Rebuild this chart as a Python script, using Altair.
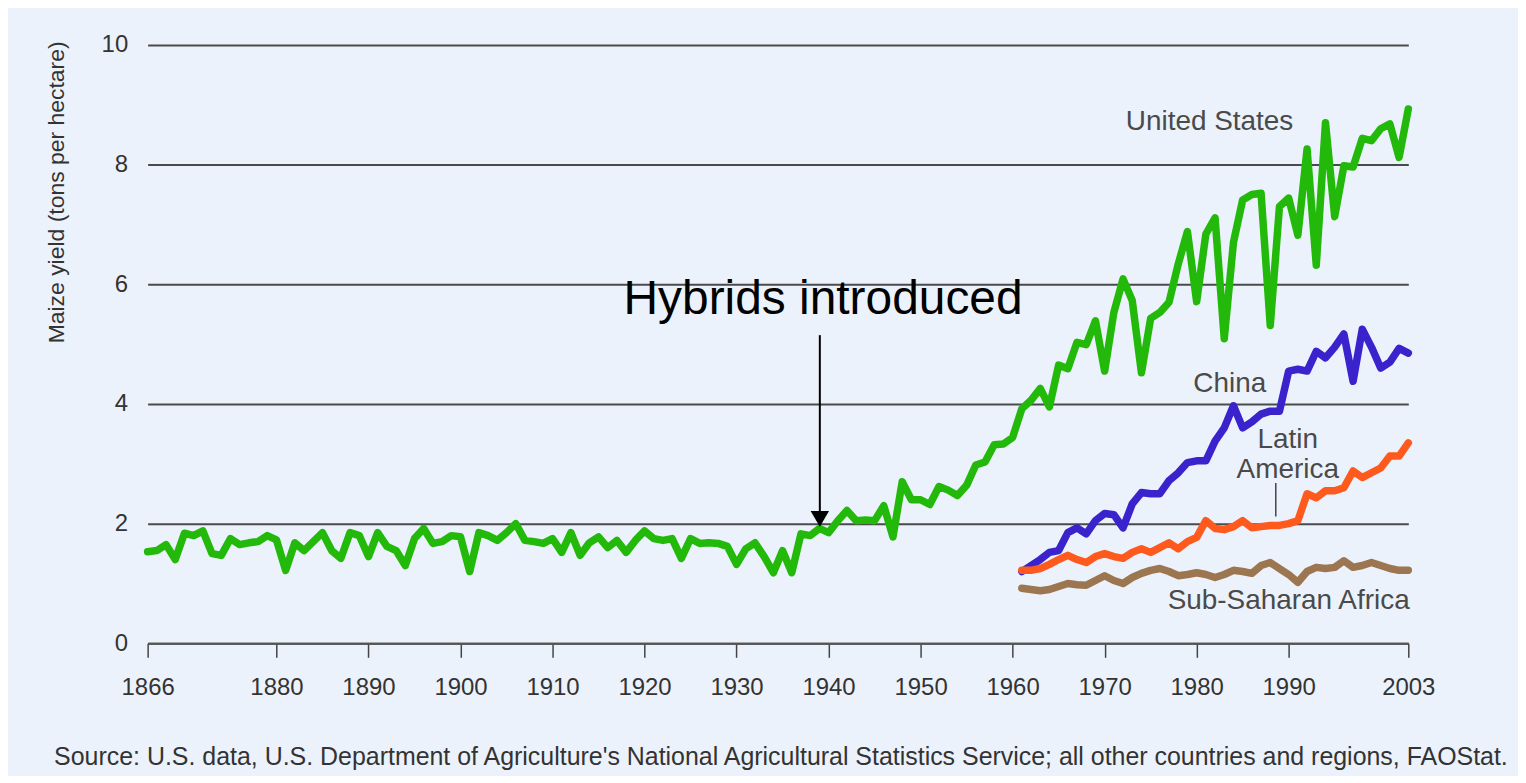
import altair as alt
import pandas as pd

# ---------------- data ----------------
us_years = list(range(1866, 2004))
us_yield = [
    1.53, 1.55, 1.65, 1.40,
    1.84, 1.80, 1.88, 1.50, 1.47, 1.75, 1.65, 1.68, 1.70, 1.80,
    1.73, 1.22, 1.68, 1.55, 1.70, 1.85, 1.55, 1.42, 1.85, 1.80,
    1.45, 1.85, 1.62, 1.55, 1.30, 1.75, 1.92, 1.67, 1.70, 1.80,
    1.78, 1.20, 1.85, 1.80, 1.72, 1.85, 2.00, 1.72, 1.70, 1.67,
    1.75, 1.52, 1.85, 1.47, 1.68, 1.78, 1.60, 1.72, 1.52, 1.72,
    1.88, 1.75, 1.72, 1.75, 1.42, 1.75, 1.67, 1.68, 1.67, 1.62,
    1.32, 1.58, 1.68, 1.45, 1.18, 1.55, 1.18, 1.83, 1.80, 1.92,
    1.85, 2.05, 2.22, 2.05, 2.06, 2.05, 2.30, 1.78, 2.70, 2.40,
    2.40, 2.32, 2.62, 2.56, 2.47, 2.64, 2.98, 3.03, 3.32, 3.33,
    3.44, 3.92, 4.06, 4.26, 3.95, 4.65, 4.59, 5.03, 4.99, 5.39,
    4.55, 5.53, 6.09, 5.73, 4.52, 5.43, 5.53, 5.70, 6.34, 6.88,
    5.71, 6.84, 7.11, 5.09, 6.70, 7.41, 7.50, 7.52, 5.31, 7.30,
    7.44, 6.82, 8.26, 6.32, 8.70, 7.13, 7.98, 7.96, 8.44, 8.40,
    8.60, 8.68, 8.12, 8.93,
]

fao_years = list(range(1961, 2004))
china = [
    1.20, 1.30, 1.40, 1.52, 1.55, 1.85, 1.93, 1.83, 2.05,
    2.17, 2.15, 1.93, 2.33, 2.52, 2.50, 2.50, 2.72, 2.85, 3.02,
    3.05, 3.05, 3.38, 3.60, 3.97, 3.60, 3.70, 3.83, 3.88, 3.88,
    4.55, 4.58, 4.55, 4.88, 4.77, 4.95, 5.17, 4.38, 5.25, 4.95,
    4.60, 4.70, 4.93, 4.85,
]
latin_america = [
    1.22, 1.22, 1.25, 1.32, 1.40, 1.47, 1.40, 1.35, 1.45,
    1.50, 1.45, 1.42, 1.52, 1.58, 1.52, 1.60, 1.68, 1.58, 1.70,
    1.77, 2.05, 1.92, 1.90, 1.95, 2.05, 1.93, 1.95, 1.97, 1.97,
    2.00, 2.05, 2.50, 2.43, 2.55, 2.55, 2.60, 2.88, 2.77, 2.85,
    2.93, 3.13, 3.13, 3.35,
]
sub_saharan = [
    0.92, 0.90, 0.88, 0.90, 0.95, 1.00, 0.98, 0.97, 1.05,
    1.13, 1.05, 1.00, 1.10, 1.17, 1.22, 1.25, 1.20, 1.13, 1.15,
    1.18, 1.15, 1.10, 1.15, 1.22, 1.20, 1.17, 1.30, 1.35, 1.25,
    1.15, 1.02, 1.20, 1.27, 1.25, 1.27, 1.38, 1.27, 1.30, 1.35,
    1.30, 1.25, 1.22, 1.22,
]

series_names = ["United States", "China", "Latin America", "Sub-Saharan Africa"]
series_colors = ["#22B90A", "#3A22CC", "#FF5A1E", "#9C7650"]

x_ticks = [1866, 1880, 1890, 1900, 1910, 1920, 1930, 1940, 1950, 1960, 1970, 1980, 1990, 2003]
y_ticks = [0, 2, 4, 6, 8, 10]

# annotation labels (data coordinates)
label_texts = ["United States", "China", "Latin", "America", "Sub-Saharan Africa"]
label_years = [1981.4, 1983.6, 1989.9, 1989.9, 1990.0]
label_vals = [8.57, 4.20, 3.27, 2.77, 0.57]

hybrid_text = "Hybrids introduced"
hybrid_year = 1939.05
source_text = ("Source: U.S. data, U.S. Department of Agriculture's National Agricultural "
               "Statistics Service; all other countries and regions, FAOStat.")

# ---------------- build tables ----------------
frames = [
    pd.DataFrame({"year": us_years, "yield": us_yield, "series": "United States"}),
    pd.DataFrame({"year": fao_years, "yield": china, "series": "China"}),
    pd.DataFrame({"year": fao_years, "yield": latin_america, "series": "Latin America"}),
    pd.DataFrame({"year": fao_years, "yield": sub_saharan, "series": "Sub-Saharan Africa"}),
]
df = pd.concat(frames, ignore_index=True)

FONT = "Liberation Sans"
W, H = 1264, 600
xs = alt.Scale(domain=[1866, 2003], nice=False, zero=False)
ys = alt.Scale(domain=[0, 10], nice=False)

x_axis = alt.Axis(values=x_ticks, format="d", grid=False, title=None,
                  domainColor="#555555", domainWidth=2, tickColor="#444444",
                  tickWidth=1.5, tickSize=14, labelFontSize=24, labelColor="#333333",
                  labelFont=FONT, labelPadding=18, labelFlush=False)
y_axis = alt.Axis(values=y_ticks, format="d", grid=True, gridColor="#4a4a4a", gridWidth=2,
                  domain=False, ticks=False, labelFontSize=24, labelColor="#333333",
                  labelFont=FONT, labelPadding=20,
                  title="Maize yield (tons per hectare)", titleFont=FONT,
                  titleFontSize=23, titleFontWeight="normal", titleColor="#333333",
                  titleAngle=270, titleAlign="right", titleBaseline="middle",
                  titleX=-91, titleY=-4)

lines = alt.Chart(df).mark_line(strokeWidth=7.5, strokeJoin="round", strokeCap="round").encode(
    x=alt.X("year:Q", scale=xs, axis=x_axis),
    y=alt.Y("yield:Q", scale=ys, axis=y_axis),
    color=alt.Color("series:N", scale=alt.Scale(domain=series_names, range=series_colors), legend=None),
    detail="series:N",
)

lab_df = pd.DataFrame({"year": label_years, "v": label_vals, "t": label_texts})
labels = alt.Chart(lab_df).mark_text(fontSize=28, font=FONT, color="#4a4a4a",
                                     align="center", baseline="alphabetic").encode(
    x=alt.X("year:Q", scale=xs), y=alt.Y("v:Q", scale=ys), text="t:N")

lat_tick = alt.Chart(pd.DataFrame({"year": [1988.6], "v1": [2.68], "v2": [2.12]})).mark_rule(
    color="#444444", strokeWidth=1.5).encode(
    x=alt.X("year:Q", scale=xs), y=alt.Y("v1:Q", scale=ys), y2="v2:Q")

hyb = alt.Chart(pd.DataFrame({"year": [1939.4], "v": [5.5], "t": [hybrid_text]})).mark_text(
    fontSize=48, font=FONT, color="black", align="center", baseline="alphabetic").encode(
    x=alt.X("year:Q", scale=xs), y=alt.Y("v:Q", scale=ys), text="t:N")

shaft = alt.Chart(pd.DataFrame({"year": [hybrid_year], "v1": [5.15], "v2": [2.2]})).mark_rule(
    color="black", strokeWidth=2).encode(
    x=alt.X("year:Q", scale=xs), y=alt.Y("v1:Q", scale=ys), y2="v2:Q")

head = alt.Chart(pd.DataFrame({"year": [hybrid_year], "v": [2.08]})).mark_point(
    shape="triangle-down", filled=True, size=340, color="black", opacity=1).encode(
    x=alt.X("year:Q", scale=xs), y=alt.Y("v:Q", scale=ys))

source = alt.Chart(pd.DataFrame({"t": [source_text]})).mark_text(
    fontSize=25, font=FONT, color="#333333", align="center", baseline="alphabetic").encode(
    x=alt.value(635), y=alt.value(722), text="t:N")

chart = alt.layer(lines, labels, lat_tick, hyb, shaft, head, source).properties(
    width=W, height=H,
    autosize=alt.AutoSizeParams(type="none"),
    padding={"left": 140, "top": 36, "right": 110, "bottom": 132},
).configure(background="#ECF2FB").configure_view(stroke=None)

chart.save("out.html", embed_options={"renderer": "svg", "actions": False})
